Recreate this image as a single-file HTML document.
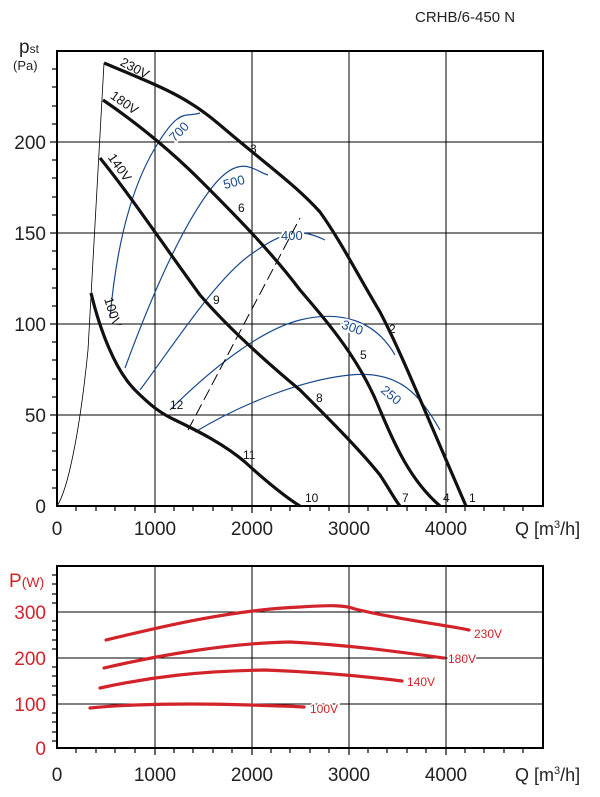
<!DOCTYPE html>
<html><head><meta charset="utf-8"><style>
body{margin:0;background:#fff;}
svg{display:block;font-family:"Liberation Sans",sans-serif;}
</style></head><body>
<svg width="600" height="797" viewBox="0 0 600 797" xmlns="http://www.w3.org/2000/svg">
<text x="415" y="22" font-size="15" fill="#222">CRHB/6-450 N</text>
<g stroke="#000" stroke-width="1">
<line x1="155" y1="51" x2="155" y2="506"/><line x1="252" y1="51" x2="252" y2="506"/>
<line x1="349" y1="51" x2="349" y2="506"/><line x1="446" y1="51" x2="446" y2="506"/>
<line x1="57" y1="142" x2="543" y2="142"/><line x1="57" y1="233" x2="543" y2="233"/>
<line x1="57" y1="324" x2="543" y2="324"/><line x1="57" y1="415" x2="543" y2="415"/>
</g>
<rect x="57" y="51" width="486" height="455" fill="none" stroke="#000" stroke-width="2"/>
<g stroke="#000" stroke-width="1.2">
<line x1="52" y1="69" x2="57" y2="69"/><line x1="52" y1="87" x2="57" y2="87"/><line x1="52" y1="106" x2="57" y2="106"/><line x1="52" y1="124" x2="57" y2="124"/><line x1="50" y1="142" x2="57" y2="142"/><line x1="52" y1="160" x2="57" y2="160"/><line x1="52" y1="178" x2="57" y2="178"/><line x1="52" y1="197" x2="57" y2="197"/><line x1="52" y1="215" x2="57" y2="215"/><line x1="50" y1="233" x2="57" y2="233"/><line x1="52" y1="251" x2="57" y2="251"/><line x1="52" y1="269" x2="57" y2="269"/><line x1="52" y1="288" x2="57" y2="288"/><line x1="52" y1="306" x2="57" y2="306"/><line x1="50" y1="324" x2="57" y2="324"/><line x1="52" y1="342" x2="57" y2="342"/><line x1="52" y1="360" x2="57" y2="360"/><line x1="52" y1="379" x2="57" y2="379"/><line x1="52" y1="397" x2="57" y2="397"/><line x1="50" y1="415" x2="57" y2="415"/><line x1="52" y1="433" x2="57" y2="433"/><line x1="52" y1="451" x2="57" y2="451"/><line x1="52" y1="470" x2="57" y2="470"/><line x1="52" y1="488" x2="57" y2="488"/>
<line x1="76" y1="506" x2="76" y2="511"/><line x1="96" y1="506" x2="96" y2="511"/><line x1="115" y1="506" x2="115" y2="511"/><line x1="135" y1="506" x2="135" y2="511"/><line x1="155" y1="506" x2="155" y2="513"/><line x1="174" y1="506" x2="174" y2="511"/><line x1="193" y1="506" x2="193" y2="511"/><line x1="213" y1="506" x2="213" y2="511"/><line x1="232" y1="506" x2="232" y2="511"/><line x1="252" y1="506" x2="252" y2="513"/><line x1="271" y1="506" x2="271" y2="511"/><line x1="290" y1="506" x2="290" y2="511"/><line x1="310" y1="506" x2="310" y2="511"/><line x1="329" y1="506" x2="329" y2="511"/><line x1="349" y1="506" x2="349" y2="513"/><line x1="368" y1="506" x2="368" y2="511"/><line x1="387" y1="506" x2="387" y2="511"/><line x1="407" y1="506" x2="407" y2="511"/><line x1="426" y1="506" x2="426" y2="511"/><line x1="446" y1="506" x2="446" y2="513"/><line x1="465" y1="506" x2="465" y2="511"/><line x1="484" y1="506" x2="484" y2="511"/><line x1="504" y1="506" x2="504" y2="511"/><line x1="523" y1="506" x2="523" y2="511"/>
</g>
<g font-size="19" fill="#222" text-anchor="end">
<text x="46" y="149">200</text><text x="46" y="240">150</text><text x="46" y="331">100</text><text x="46" y="422">50</text><text x="46" y="513">0</text>
</g>
<g font-size="19" fill="#222" text-anchor="middle">
<text x="57" y="535">0</text><text x="155" y="535">1000</text><text x="252" y="535">2000</text><text x="349" y="535">3000</text><text x="446" y="535">4000</text>
</g>
<text x="515" y="535" font-size="18" fill="#222">Q [m<tspan font-size="11" dy="-7">3</tspan><tspan dy="7">/h]</tspan></text>
<text x="19" y="53" font-size="19" fill="#222">p<tspan font-size="12">st</tspan></text>
<text x="13" y="70" font-size="13" fill="#222">(Pa)</text>
<g fill="none" stroke="#1a4a8e" stroke-width="1.2">
<path d="M110,318 C116,250 130,190 155,148 S185,118 200,113"/>
<path d="M125,368 C150,300 180,230 210,190 S255,172 268,175"/>
<path d="M140,390 C170,350 215,280 250,255 S300,228 325,240"/>
<path d="M170,410 C210,370 260,330 300,320 S375,320 395,355"/>
<path d="M195,432 C240,405 300,380 350,375 S420,395 440,430"/>
</g>
<g font-size="13" fill="#1a4a8e" paint-order="stroke" stroke="#fff" stroke-width="4">
<text x="168" y="137" transform="rotate(-45 178 132)">700</text>
<text x="223" y="187" transform="rotate(-15 232 182)">500</text>
<text x="281" y="240">400</text>
<text x="342" y="331" transform="rotate(20 350 326)">300</text>
<text x="382" y="398" transform="rotate(40 390 392)">250</text>
</g>
<path d="M57,506 C68,490 80,430 88,350 L104,63" fill="none" stroke="#000" stroke-width="0.8"/>
<line x1="188" y1="430" x2="300" y2="218" stroke="#000" stroke-width="1" stroke-dasharray="12,5"/>
<g fill="none" stroke="#111" stroke-width="3.2" stroke-linejoin="round">
<path d="M104,63 C140,78 170,90 190,103 C210,115 225,130 250,150 C280,175 300,190 320,212 C340,240 355,270 380,312 C400,350 420,400 466,506"/>
<path d="M103,100 C140,125 175,155 200,180 C230,210 270,250 300,290 C330,325 360,360 380,410 C395,445 410,480 440,506"/>
<path d="M100,158 C130,195 160,240 200,295 C230,330 270,365 300,390 C330,420 360,450 380,475 C390,490 395,500 400,506"/>
<path d="M91,293 C100,330 115,370 135,390 C150,405 160,413 175,420 C200,432 225,445 245,462 C270,485 290,500 300,506"/>
</g>
<g font-size="13" fill="#111">
<text x="120" y="70" transform="rotate(28 130 66)">230V</text>
<text x="110" y="104" transform="rotate(35 120 100)">180V</text>
<text x="104" y="164" transform="rotate(55 112 164)">140V</text>
<text x="96" y="302" transform="rotate(72 102 306)">100V</text>
</g>
<g font-size="12" fill="#111">
<text x="469" y="502">1</text><text x="389" y="333">2</text><text x="250" y="153">3</text><text x="443" y="502">4</text><text x="360" y="359">5</text><text x="238" y="212">6</text><text x="402" y="502">7</text><text x="316" y="402">8</text><text x="213" y="304">9</text><text x="305" y="502">10</text><text x="243" y="459">11</text><text x="170" y="409">12</text>
</g>
<g stroke="#000" stroke-width="1">
<line x1="155" y1="566" x2="155" y2="748"/><line x1="252" y1="566" x2="252" y2="748"/>
<line x1="349" y1="566" x2="349" y2="748"/><line x1="446" y1="566" x2="446" y2="748"/>
<line x1="57" y1="612" x2="543" y2="612"/><line x1="57" y1="658" x2="543" y2="658"/><line x1="57" y1="704" x2="543" y2="704"/>
</g>
<rect x="57" y="566" width="486" height="182" fill="none" stroke="#000" stroke-width="2"/>
<g stroke="#000" stroke-width="1.2">
<line x1="52" y1="575" x2="57" y2="575"/><line x1="52" y1="584" x2="57" y2="584"/><line x1="52" y1="594" x2="57" y2="594"/><line x1="52" y1="603" x2="57" y2="603"/><line x1="52" y1="621" x2="57" y2="621"/><line x1="52" y1="630" x2="57" y2="630"/><line x1="52" y1="640" x2="57" y2="640"/><line x1="52" y1="649" x2="57" y2="649"/><line x1="52" y1="667" x2="57" y2="667"/><line x1="52" y1="676" x2="57" y2="676"/><line x1="52" y1="686" x2="57" y2="686"/><line x1="52" y1="695" x2="57" y2="695"/><line x1="52" y1="713" x2="57" y2="713"/><line x1="52" y1="722" x2="57" y2="722"/><line x1="52" y1="732" x2="57" y2="732"/><line x1="52" y1="741" x2="57" y2="741"/>
<line x1="76" y1="748" x2="76" y2="753"/><line x1="96" y1="748" x2="96" y2="753"/><line x1="115" y1="748" x2="115" y2="753"/><line x1="135" y1="748" x2="135" y2="753"/><line x1="155" y1="748" x2="155" y2="755"/><line x1="174" y1="748" x2="174" y2="753"/><line x1="193" y1="748" x2="193" y2="753"/><line x1="213" y1="748" x2="213" y2="753"/><line x1="232" y1="748" x2="232" y2="753"/><line x1="252" y1="748" x2="252" y2="755"/><line x1="271" y1="748" x2="271" y2="753"/><line x1="290" y1="748" x2="290" y2="753"/><line x1="310" y1="748" x2="310" y2="753"/><line x1="329" y1="748" x2="329" y2="753"/><line x1="349" y1="748" x2="349" y2="755"/><line x1="368" y1="748" x2="368" y2="753"/><line x1="387" y1="748" x2="387" y2="753"/><line x1="407" y1="748" x2="407" y2="753"/><line x1="426" y1="748" x2="426" y2="753"/><line x1="446" y1="748" x2="446" y2="755"/><line x1="465" y1="748" x2="465" y2="753"/><line x1="484" y1="748" x2="484" y2="753"/><line x1="504" y1="748" x2="504" y2="753"/><line x1="523" y1="748" x2="523" y2="753"/>
</g>
<g font-size="19" fill="#d2232a" text-anchor="end">
<text x="46" y="619">300</text><text x="46" y="665">200</text><text x="46" y="711">100</text><text x="46" y="755">0</text>
</g>
<text x="9" y="587" font-size="19" fill="#d2232a">P<tspan font-size="14">(W)</tspan></text>
<g font-size="19" fill="#222" text-anchor="middle">
<text x="57" y="781">0</text><text x="155" y="781">1000</text><text x="252" y="781">2000</text><text x="349" y="781">3000</text><text x="446" y="781">4000</text>
</g>
<text x="515" y="781" font-size="18" fill="#222">Q [m<tspan font-size="11" dy="-7">3</tspan><tspan dy="7">/h]</tspan></text>
<g fill="none" stroke="#d2232a" stroke-width="3.2" stroke-linecap="round">
<path d="M106,640 C160,627 230,610 300,607 C330,605 345,605 355,609 C400,620 440,624 469,630"/>
<path d="M104,668 C160,655 230,643 290,642 C350,645 400,652 444,658"/>
<path d="M100,688 C150,677 200,671 265,670 C320,672 370,677 402,681"/>
<path d="M90,708 C130,704 190,703 250,705 C275,706 290,706 304,707"/>
</g>
<g font-size="12" fill="#d2232a" paint-order="stroke" stroke="#fff" stroke-width="3">
<text x="474" y="638">230V</text><text x="448" y="663">180V</text><text x="407" y="686">140V</text><text x="310" y="713">100V</text>
</g>
</svg>
</body></html>
